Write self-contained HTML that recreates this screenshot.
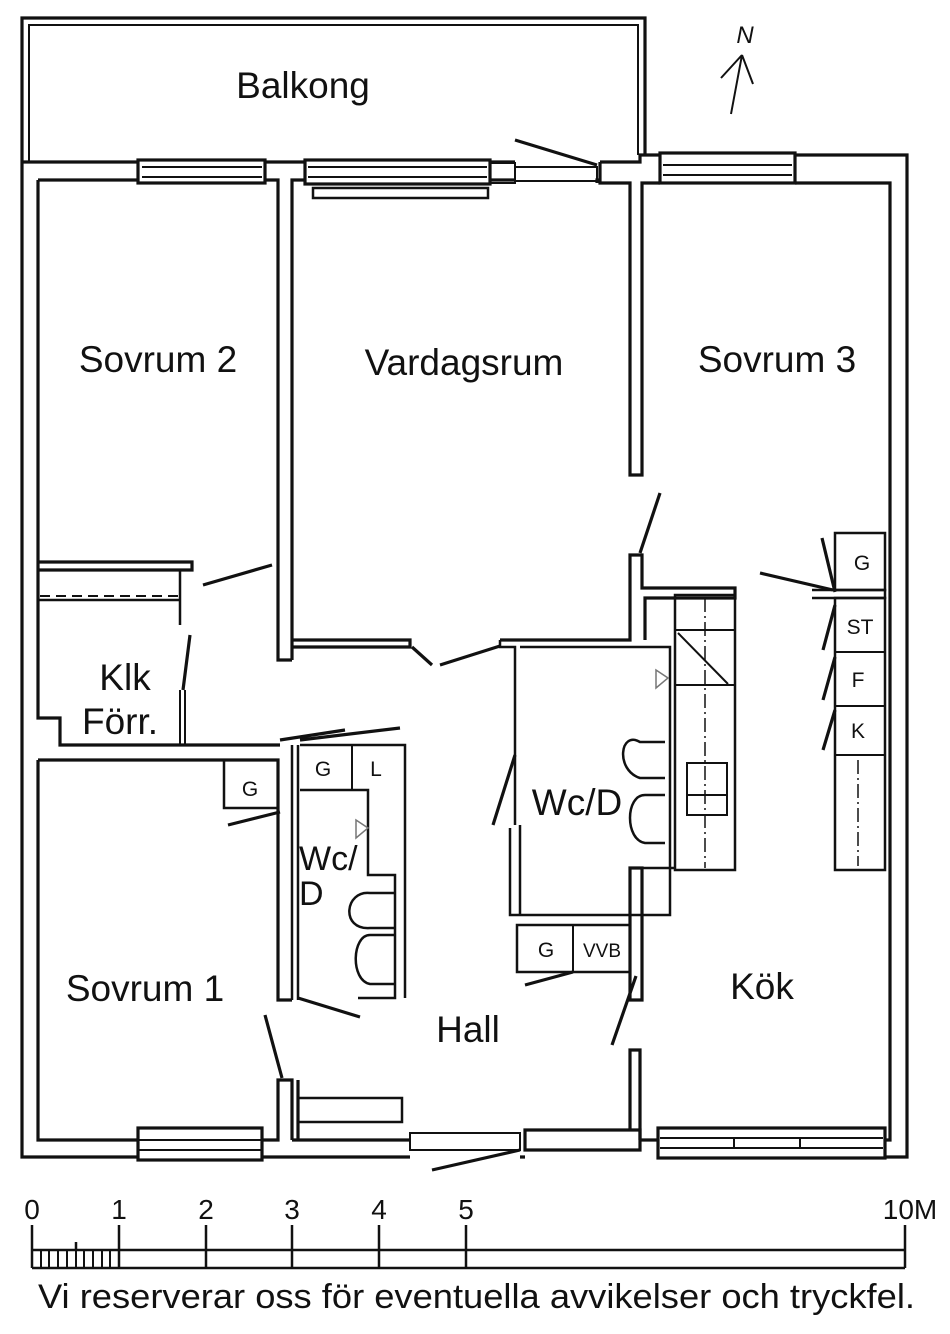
<!DOCTYPE html>
<html><head><meta charset="utf-8"><style>
html,body{margin:0;padding:0;background:#fff}
svg{display:block}
text{font-family:"Liberation Sans",sans-serif;fill:#111}
</style></head><body>
<svg width="950" height="1334" viewBox="0 0 950 1334" xmlns="http://www.w3.org/2000/svg">
<g fill="none" stroke="#111" stroke-width="3.2" stroke-linejoin="miter">
<path d="M22 162 V18 H645 V155"/>
<path d="M29 162 V25 H638 V155" stroke-width="2"/>
<path d="M22 162 H138 M265 162 H305 M490 162 H515 M600 162 H640 V155 H660 M795 155 H907 V1157 H885"/>
<path d="M22 162 V1157 H138 M262 1157 H410 M520 1157 H525"/>
<path d="M38 180 V718 H60 V745 H280"/>
<path d="M38 180 H138 M265 180 H278 V660 H292"/>
<path d="M292 660 V180 H305 M490 180 H515"/>
<path d="M597 183 V180 H600 M600 162 V183 H630 V475 H642 V183 H660 M795 183 H890 V1140 H885"/>
<path d="M38 760 H278 V1000 H292"/>
<path d="M38 760 V1140 H138 M262 1140 H278 V1080 H292 V1140"/>
<path d="M292 1140 H298 V1080 M298 1140 H410"/>
<rect x="138" y="1128" width="124" height="32"/>
<line x1="138" y1="1140" x2="262" y2="1140" stroke-width="2"/>
<line x1="138" y1="1150" x2="262" y2="1150" stroke-width="2"/>
<path d="M410 1133 H520 V1150 H410 Z" stroke-width="2"/>
<path d="M525 1130 H640 V1150 H525 Z"/>
<path d="M640 1140 V1050 H630 V1130 M640 1140 H658"/>
<rect x="658" y="1128" width="227" height="30"/>
<line x1="660" y1="1138" x2="883" y2="1138" stroke-width="2"/>
<line x1="660" y1="1148" x2="883" y2="1148" stroke-width="2"/>
<line x1="734" y1="1138" x2="734" y2="1148" stroke-width="2"/>
<line x1="800" y1="1138" x2="800" y2="1148" stroke-width="2"/>
<rect x="298" y="1098" width="104" height="24" stroke-width="2.5"/>
<rect x="138" y="160" width="127" height="23"/>
<line x1="142" y1="167" x2="262" y2="167" stroke-width="2"/>
<line x1="142" y1="177" x2="262" y2="177" stroke-width="2"/>
<rect x="305" y="160" width="185" height="24"/>
<line x1="308" y1="167" x2="487" y2="167" stroke-width="2"/>
<line x1="308" y1="177" x2="487" y2="177" stroke-width="2"/>
<rect x="313" y="188" width="175" height="10" stroke-width="2.5"/>
<rect x="490" y="163" width="25" height="20" stroke-width="2"/>
<rect x="515" y="167" width="82" height="14" stroke-width="2"/>
<rect x="660" y="153" width="135" height="30"/>
<line x1="663" y1="165" x2="792" y2="165" stroke-width="2"/>
<line x1="663" y1="175" x2="792" y2="175" stroke-width="2"/>
<path d="M38 562 H192 V570 H38"/>
<path d="M38 600 H180 V570 M180 570 V625" stroke-width="2.5"/>
<path d="M40 596 H178" stroke-dasharray="10 6" stroke-width="2"/>
<path d="M180 690 V745 M185 690 V745" stroke-width="2"/>
<path d="M292 640 H410 V647 H292"/>
<path d="M500 640 H630 V555 H642 V588 H735 V598 H645 V640" />
<path d="M500 640 V647 H515 V825" stroke-width="2.5"/>
<path d="M520 647 H670 V915 H520 V825 M510 828 V915 H630" stroke-width="2.5"/>
<path d="M292 745 V1000 M298 745 V1000" stroke-width="2.5"/>
<path d="M300 745 H405 V998 M300 790 H368 V875 H395 V998 H358" stroke-width="2.5"/>
<line x1="352" y1="745" x2="352" y2="790" stroke-width="2"/>
<path d="M224 760 V808 H278" stroke-width="2.5"/>
<path d="M517 925 H630 V972 H517 Z" stroke-width="2.5"/>
<line x1="573" y1="925" x2="573" y2="972" stroke-width="2"/>
<path d="M630 868 V1000 H642 V868 Z"/>
<path d="M675 595 H735 V870 H675 Z" stroke-width="2.5"/>
<line x1="675" y1="630" x2="735" y2="630" stroke-width="2"/>
<line x1="675" y1="685" x2="735" y2="685" stroke-width="2"/>
<line x1="705" y1="598" x2="705" y2="868" stroke-width="1.5" stroke-dasharray="14 4 2 4"/>
<line x1="678" y1="633" x2="728" y2="684" stroke-width="2"/>
<rect x="687" y="763" width="40" height="52" stroke-width="2"/>
<line x1="687" y1="795" x2="727" y2="795" stroke-width="2"/>
<path d="M642 868 H675" stroke-width="2.5"/>
<path d="M835 533 H885 V590 H835 Z" stroke-width="2.5"/>
<path d="M812 590 H885 V598 H812" stroke-width="2.5"/>
<path d="M835 598 H885 V870 H835 Z" stroke-width="2.5"/>
<line x1="835" y1="652" x2="885" y2="652" stroke-width="2"/>
<line x1="835" y1="706" x2="885" y2="706" stroke-width="2"/>
<line x1="835" y1="755" x2="885" y2="755" stroke-width="2"/>
<line x1="858" y1="760" x2="858" y2="866" stroke-width="1.5" stroke-dasharray="14 4 2 4"/>
<path d="M665 742 H640 C620 730 615 770 640 778 H665" stroke-width="2.5"/>
<path d="M665 795 H645 C625 795 625 840 645 843 H665" stroke-width="2.5"/>
<path d="M395 893 H370 C345 890 340 930 370 928 H395" stroke-width="2.5"/>
<path d="M395 935 H370 C352 935 350 980 370 984 H395" stroke-width="2.5"/>
<path d="M203 585 L272 565 M190 635 L183 690 M228 825 L280 812 M280 740 L345 730 M300 740 L400 728 M298 998 L360 1017 M265 1015 L282 1078 M412 647 L432 665 M440 665 L500 646 M493 825 L515 755 M525 985 L573 972 M612 1045 L636 976 M432 1170 L520 1150 M515 140 L597 165 M640 553 L660 493 M760 573 L833 590 M822 538 L835 592 M823 650 L835 605 M823 700 L835 657 M823 750 L835 710"/>
<path d="M731 114 L742 55 M742 55 L721 78 M742 55 L753 84" stroke-width="2"/>
<path d="M32 1250 H905 M32 1268 H905 M32 1225 V1268 M119 1225 V1268 M206 1225 V1268 M292 1225 V1268 M379 1225 V1268 M466 1225 V1268 M905 1225 V1268 M76 1242 V1250" stroke-width="2.5"/>
<path d="M41 1250V1268M49 1250V1268M58 1250V1268M67 1250V1268M76 1250V1268M84 1250V1268M93 1250V1268M102 1250V1268M110 1250V1268" stroke-width="2"/>
</g>
<g fill="#fff" stroke="#777" stroke-width="1.5">
<path d="M656 670 L668 678 L656 688 Z"/>
<path d="M356 820 L368 828 L356 838 Z"/>
</g>
<g font-size="37" text-anchor="middle">
<text x="303" y="98">Balkong</text>
<text x="158" y="372">Sovrum 2</text>
<text x="464" y="375">Vardagsrum</text>
<text x="777" y="372">Sovrum 3</text>
<text x="125" y="690">Klk</text>
<text x="120" y="734">Förr.</text>
<text x="145" y="1001">Sovrum 1</text>
<text x="468" y="1042">Hall</text>
<text x="762" y="999">Kök</text>
<text x="577" y="815">Wc/D</text>
</g>
<text x="299" y="870" font-size="34">Wc/</text>
<text x="299" y="905" font-size="34">D</text>
<g font-size="21" text-anchor="middle">
<text x="250" y="796">G</text>
<text x="323" y="776">G</text>
<text x="376" y="776">L</text>
<text x="546" y="957">G</text>
<text x="602" y="957" font-size="19">VVB</text>
<text x="862" y="570">G</text>
<text x="860" y="634">ST</text>
<text x="858" y="687">F</text>
<text x="858" y="738">K</text>
</g>
<text x="745" y="43" font-size="24" font-style="italic" text-anchor="middle">N</text>
<g font-size="28" text-anchor="middle">
<text x="32" y="1219">0</text><text x="119" y="1219">1</text><text x="206" y="1219">2</text><text x="292" y="1219">3</text><text x="379" y="1219">4</text><text x="466" y="1219">5</text><text x="910" y="1219">10M</text>
</g>
<text x="38" y="1308" font-size="34" textLength="877" lengthAdjust="spacingAndGlyphs">Vi reserverar oss för eventuella avvikelser och tryckfel.</text>
</svg>
</body></html>
